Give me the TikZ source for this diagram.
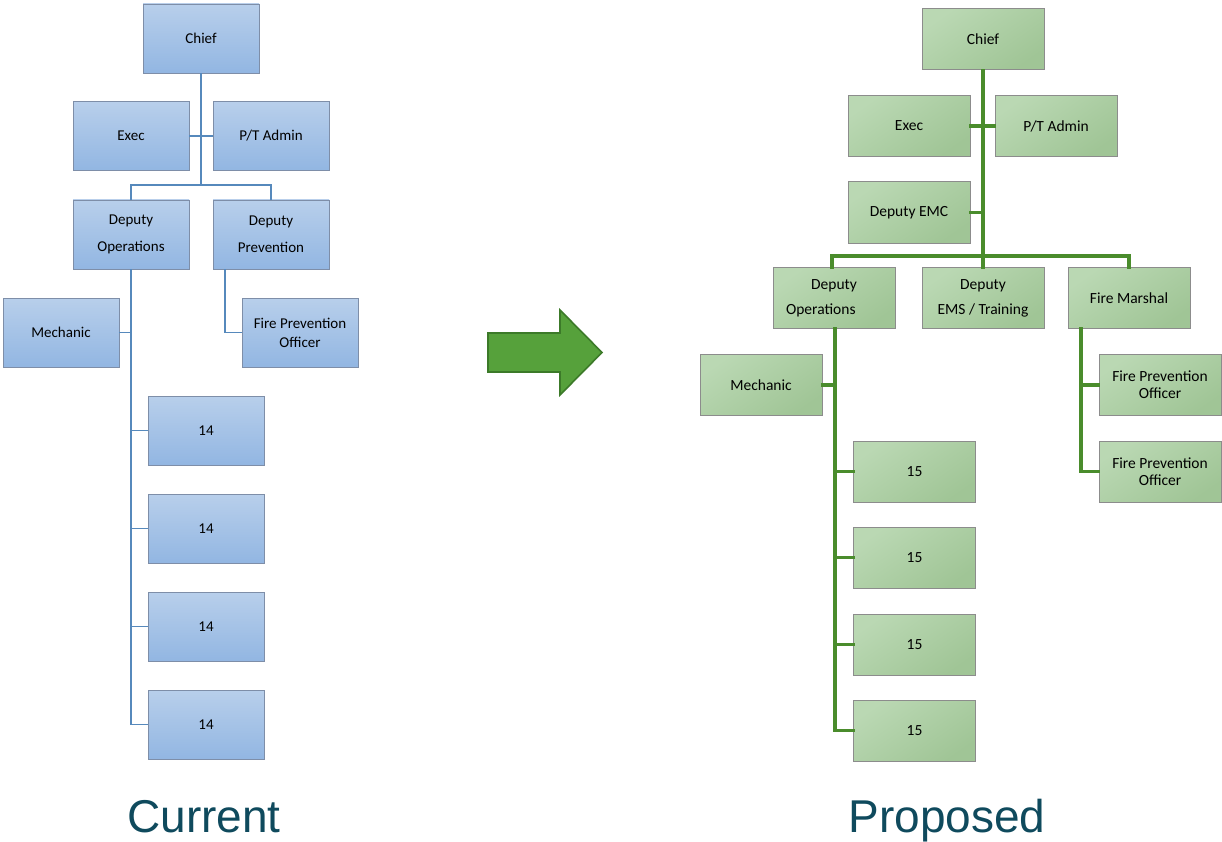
\documentclass[tikz,border=0pt]{standalone}
\usepackage{fontspec}
\setmainfont{Carlito}
\newfontfamily\labelfont{Liberation Sans}
\usetikzlibrary{positioning}
\definecolor{curtop}{HTML}{B8CFEB}
\definecolor{curbot}{HTML}{92B6E2}
\definecolor{curedge}{HTML}{7E8EA8}
\definecolor{curwire}{HTML}{5689BC}
\definecolor{proplight}{HTML}{BAD8B3}
\definecolor{propdark}{HTML}{A0C596}
\definecolor{propedge}{HTML}{8C8C8C}
\definecolor{propwire}{HTML}{4A8C2C}
\definecolor{arrowfill}{HTML}{56A13B}
\definecolor{arrowedge}{HTML}{3C7A29}
\definecolor{captext}{HTML}{0F4A5D}

\begin{document}
\begin{tikzpicture}[x=1pt, y=-1pt,
        curbox/.style={rectangle, draw=curedge, line width=0.8pt, top color=curtop, bottom color=curbot, minimum width=116pt, minimum height=69pt, inner sep=0pt, align=center, font=\fontsize{15}{27}\selectfont},
        propbox/.style={rectangle, draw=propedge, line width=1pt, top color=proplight, bottom color=propdark, shading angle=35, minimum width=122pt, minimum height=61pt, inner sep=0pt, align=center, font=\fontsize{15.5}{25}\selectfont},
        curline/.style={draw=curwire, line width=1.6pt},
        propline/.style={draw=propwire, line width=3.2pt, line cap=rect},
        caption/.style={font=\labelfont\fontsize{46}{46}\selectfont, text=captext, anchor=base}]
        \useasboundingbox (0,0) rectangle (1222,842);

        % current structure
        \node[curbox] (cchief) at (201,38.5) {Chief};
        \node[curbox] (cexec) at (131,136) {Exec};
        \node[curbox] (cadmin) at (271,136) {P/T Admin};
        \node[curbox] (cdops) at (131,234.5) {Deputy\\Operations};
        \node[curbox] (cdprev) at (271,234.5) {Deputy\\Prevention};
        \node[curbox] (cmech) at (61,332.5) {Mechanic};
        \node[curbox, font=\fontsize{15}{19}\selectfont] (cfpo) at (300,332.5) {Fire Prevention\\Officer};
        \foreach \i/\y in {1/430.5, 2/528.5, 3/626.5, 4/724.5}
            \node[curbox] (ccrew\i) at (206,\y) {14};

        \coordinate (cbus) at (201,185);
        \draw[curline] (cchief.south) -- (cbus);
        \draw[curline] (cexec.east) -- (cadmin.west);
        \draw[curline] (cdops.north) |- (cbus) -| (cdprev.north);
        \draw[curline] (cdops.south) -- (cdops.south |- ccrew4.west);
        \draw[curline] (cmech.east) -- (cmech.east -| cdops.south);
        \foreach \i in {1,...,4}
            \draw[curline] (ccrew\i.west) -- (ccrew\i.west -| cdops.south);
        \draw[curline] ([xshift=-46pt]cdprev.south) |- (cfpo.west);

        % arrow
        \draw[fill=arrowfill, draw=arrowedge, line width=1.6pt, line join=miter]
            (488,333) -- (560,333) -- (560,310) -- (602,352.5) -- (560,395) -- (560,372) -- (488,372) -- cycle;

        % proposed structure
        \node[propbox] (pchief) at (983,39.5) {Chief};
        \node[propbox] (pexec) at (909,126) {Exec};
        \node[propbox] (padmin) at (1056,126) {P/T Admin};
        \node[propbox] (pemc) at (909,212.5) {Deputy EMC};
        \node[propbox] (pdops) at (834,298) {Deputy\\Operations\hspace*{1.7em}};
        \node[propbox] (pdems) at (983,298) {Deputy\\EMS / Training};
        \node[propbox] (pmarshal) at (1129,298) {Fire Marshal};
        \node[propbox] (pmech) at (761,385) {Mechanic};
        \foreach \i/\y in {1/471.5, 2/557.5, 3/644.5, 4/730.5}
            \node[propbox] (pcrew\i) at (914.5,\y) {15};
        \node[propbox, font=\fontsize{15.5}{17}\selectfont] (pfpo1) at (1160,385) {Fire Prevention\\Officer};
        \node[propbox, font=\fontsize{15.5}{17}\selectfont] (pfpo2) at (1160,471.5) {Fire Prevention\\Officer};

        \coordinate (pbus) at (983,256);
        \draw[propline] (pchief.south) -- (pdems.north);
        \draw[propline] (pexec.east) -- (padmin.west);
        \draw[propline] (pemc.east) -- (pemc.east -| pchief.south);
        \draw[propline] ([xshift=-2pt]pdops.north) |- (pbus) -| (pmarshal.north);
        \draw[propline] ([xshift=1pt]pdops.south) -- ([xshift=1pt]pdops.south |- pcrew4.west);
        \draw[propline] (pmech.east) -- ([xshift=1pt]pmech.east -| pdops.south);
        \foreach \i in {1,...,4}
            \draw[propline] (pcrew\i.west) -- ([xshift=1pt]pcrew\i.west -| pdops.south);
        \draw[propline] ([xshift=-48pt]pmarshal.south) |- (pfpo1.west);
        \draw[propline] ([xshift=-48pt]pmarshal.south) |- (pfpo2.west);

        % captions
        \node[caption] (curlabel) at (204,832) {Current};
        \node[caption] (proplabel) at (947,832) {Proposed};
    \end{tikzpicture}
\end{document}
